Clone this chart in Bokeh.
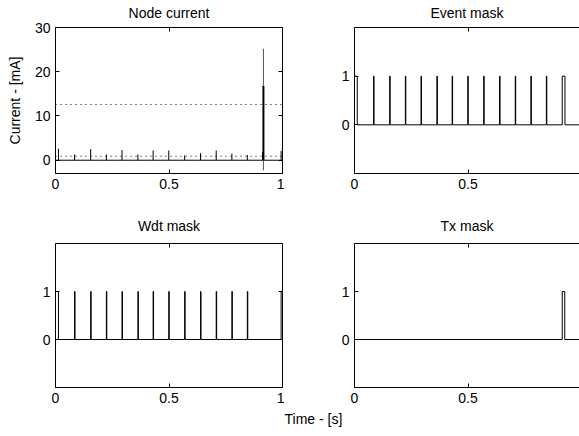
from bokeh.plotting import figure
from bokeh.models import Title, LinearAxis, FixedTicker, Range1d
from bokeh.layouts import gridplot
from bokeh.embed import file_html
from bokeh.resources import INLINE

# ---------------- data ----------------
x_ticks = [0, 0.5, 1]
x_tick_labels = ["0", "0.5", "1"]
current_ticks = [0, 10, 20, 30]
current_tick_labels = ["0", "10", "20", "30"]
mask_ticks = [0, 1]
mask_tick_labels = ["0", "1"]

time_span = [0.0, 1.0]
baseline_current = [0.0, 0.0]
# node current: periodic wake-up spikes (s, mA)
spike_times = [0.013, 0.084, 0.155, 0.224, 0.293, 0.363, 0.430, 0.499,
               0.569, 0.639, 0.708, 0.777, 0.845, 0.912, 0.994]
spike_peaks = [2.6, 1.3, 2.5, 1.3, 2.3, 1.3, 2.2, 2.2,
               1.1, 1.6, 2.2, 1.5, 1.2, 1.9, 2.1]
# radio transmission burst
tx_time = [0.916]
tx_max = [25.2]
tx_min = [-2.3]
tx_plateau = [16.8]
# dotted reference levels (mA)
level_low = [0.9, 0.9]
level_high = [12.6, 12.6]

# masks: (start, end) of each high pulse
wake_times = [0.084, 0.155, 0.224, 0.293, 0.363, 0.430, 0.499,
              0.569, 0.639, 0.708, 0.777, 0.845]
event_pulses = [(0.0, 0.012)] + [(t, t + 0.002) for t in wake_times] + [(0.915, 0.927), (0.992, 1.0)]
wdt_pulses = [(0.0, 0.013)] + [(t, t + 0.002) for t in wake_times] + [(0.994, 1.0)]
tx_pulses = [(0.915, 0.926), (0.992, 1.0)]

FONT = "Liberation Sans"
FS = "14px"


def step_arrays(pulses):
    xs, ys = [0.0], [0.0]
    for s, e in pulses:
        xs += [s, s, e, e]
        ys += [0, 1, 1, 0]
    xs.append(1.0)
    ys.append(0)
    return xs, ys


def style_axis(ax, labelled=True):
    ax.axis_line_color = "black"
    ax.axis_line_width = 1
    ax.major_tick_line_color = "black"
    ax.major_tick_in = 4
    ax.major_tick_out = 0
    ax.minor_tick_in = 0
    ax.minor_tick_out = 0
    ax.major_label_text_font = FONT
    ax.major_label_text_color = "black"
    ax.axis_label_text_font = FONT
    ax.axis_label_text_font_size = FS
    ax.axis_label_text_font_style = "normal"
    ax.axis_label_text_color = "black"
    if labelled:
        ax.major_label_text_font_size = FS
        ax.major_label_standoff = 5
    else:
        ax.major_label_text_font_size = "0px"
        ax.major_label_standoff = 0


def make_fig(width, height, xr, yr, yticks, ylabels, bl, br, bt, bb, right_box, title, title_gap):
    p = figure(width=width, height=height, x_range=Range1d(*xr), y_range=Range1d(*yr),
               output_backend="svg", toolbar_location=None,
               x_axis_type=None, y_axis_type=None,
               min_border_left=bl, min_border_right=br,
               min_border_top=bt, min_border_bottom=bb)
    p.outline_line_color = None
    p.background_fill_color = "white"
    p.border_fill_color = "white"

    xb = LinearAxis(ticker=FixedTicker(ticks=x_ticks),
                    major_label_overrides=dict(zip(x_ticks, x_tick_labels)))
    style_axis(xb)
    p.add_layout(xb, "below")
    yl = LinearAxis(ticker=FixedTicker(ticks=yticks),
                    major_label_overrides=dict(zip(yticks, ylabels)))
    style_axis(yl)
    p.add_layout(yl, "left")
    # top edge of the box; its axis label serves as the subplot title
    xt = LinearAxis(ticker=FixedTicker(ticks=x_ticks),
                    major_label_overrides={t: "" for t in x_ticks})
    style_axis(xt, labelled=False)
    xt.axis_label = title
    xt.axis_label_standoff = title_gap
    p.add_layout(xt, "above")
    if right_box:
        yr_ax = LinearAxis(ticker=FixedTicker(ticks=yticks),
                           major_label_overrides={t: "" for t in yticks})
        style_axis(yr_ax, labelled=False)
        p.add_layout(yr_ax, "right")
    return p, yl, xb


LW, RW = 284, 295
TH, BH = 213, 223
RIGHT_END = 0.991

# ---- Node current ----
p1, y1, _ = make_fig(LW, TH, (0, 1), (-3, 30), current_ticks, current_tick_labels,
                     55, 2, 27, 40, True, "Node current", 7)
y1.axis_label = "Current - [mA]"
y1.axis_label_standoff = 9
p1.line(time_span, baseline_current, line_color="black", line_width=1)
p1.line(time_span, level_low, line_color="black", line_width=1, line_dash="1 4")
p1.line(time_span, level_high, line_color="black", line_width=1, line_dash="1 4")
p1.segment(x0=spike_times, y0=[0] * len(spike_times), x1=spike_times, y1=spike_peaks,
           line_color="black", line_width=1)
p1.segment(x0=tx_time, y0=tx_min, x1=tx_time, y1=tx_max, line_color="#555555", line_width=1)
p1.segment(x0=tx_time, y0=[0], x1=tx_time, y1=tx_plateau, line_color="black", line_width=2)

# ---- Event mask ----
p2, _, _ = make_fig(RW, TH, (0, RIGHT_END), (-1, 2), mask_ticks, mask_tick_labels,
                    70, 0, 27, 40, False, "Event mask", 7)
ex, ey = step_arrays(event_pulses)
p2.line(ex, ey, line_color="black", line_width=1)

# ---- Wdt mask ----
p3, _, _ = make_fig(LW, BH, (0, 1), (-1, 2), mask_ticks, mask_tick_labels,
                    55, 2, 30, 49, True, "Wdt mask", 10)
wx, wy = step_arrays(wdt_pulses)
p3.line(wx, wy, line_color="black", line_width=1)

# ---- Tx mask ----
p4, _, _ = make_fig(RW, BH, (0, RIGHT_END), (-1, 2), mask_ticks, mask_tick_labels,
                    70, 0, 30, 49, False, "Tx mask", 10)
tx_x, tx_y = step_arrays(tx_pulses)
p4.line(tx_x, tx_y, line_color="black", line_width=1)
p4.add_layout(Title(text="Time - [s]", align="left", offset=-70, text_font=FONT,
                    text_font_size=FS, text_font_style="normal", text_color="black",
                    standoff=6), "below")

grid = gridplot([[p1, p2], [p3, p4]], toolbar_location=None)

open("out.html", "w").write(file_html(grid, INLINE))
